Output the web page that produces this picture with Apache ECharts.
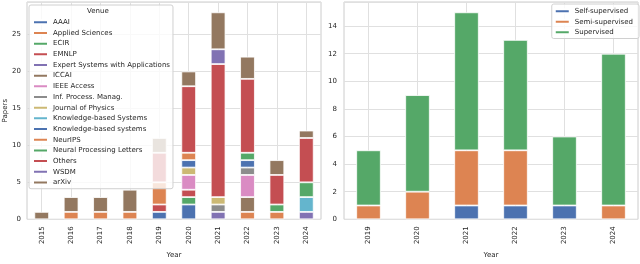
<!DOCTYPE html>
<html>
<head>
<meta charset="utf-8">
<script src="https://cdn.jsdelivr.net/npm/echarts@6/dist/echarts.min.js"></script>
<style>html,body{margin:0;padding:0;background:#fff}#c{width:640px;height:264px}</style>
</head>
<body>
<div id="c"></div>
<script>
// ---- Left chart: papers per venue per year ----
const years = ['2015','2016','2017','2018','2019','2020','2021','2022','2023','2024'];
const venues = ['AAAI','Applied Sciences','ECIR','EMNLP','Expert Systems with Applications','ICCAI','IEEE Access','Inf. Process. Manag.','Journal of Physics','Knowledge-based Systems','Knowledge-based systems','NeurIPS','Neural Processing Letters','Others','WSDM','arXiv'];
const AAAI              = [0,0,0,0,1,2,0,0,0,0];
const AppliedSciences   = [0,0,0,0,0,0,0,1,0,0];
const ECIR              = [0,0,0,0,0,1,0,0,0,0];
const EMNLP             = [0,0,0,0,1,1,0,0,0,0];
const ExpertSystems     = [0,0,0,0,0,0,1,0,0,1];
const ICCAI             = [0,0,0,0,0,0,0,2,0,0];
const IEEEAccess        = [0,0,0,0,0,2,0,3,0,0];
const InfProcessManag   = [0,0,0,0,0,0,1,1,0,0];
const JournalOfPhysics  = [0,0,0,0,0,1,1,0,0,0];
const KnowledgeBasedSys = [0,0,0,0,0,0,0,0,0,2];
const KnowledgeBasedsys = [0,0,0,0,0,1,0,1,0,0];
const NeurIPS           = [0,1,1,1,3,1,0,0,1,0];
const NeuralProcLetters = [0,0,0,0,0,0,0,1,1,2];
const Others            = [0,0,0,0,4,9,18,10,4,6];
const WSDM              = [0,0,0,0,0,0,2,0,0,0];
const arXiv             = [1,2,2,3,2,2,5,3,2,1];
const venueValues = [AAAI,AppliedSciences,ECIR,EMNLP,ExpertSystems,ICCAI,IEEEAccess,InfProcessManag,JournalOfPhysics,KnowledgeBasedSys,KnowledgeBasedsys,NeurIPS,NeuralProcLetters,Others,WSDM,arXiv];
const leftTicks = [0,5,10,15,20,25];

// ---- Right chart: supervision type per year ----
const years2 = ['2019','2020','2021','2022','2023','2024'];
const methods = ['Self-supervised','Semi-supervised','Supervised'];
const selfSup = [0,0,1,1,1,0];
const semiSup = [1,2,4,4,0,1];
const supervised = [4,7,10,8,5,11];
const rightTicks = [0,2,4,6,8,10,12,14];

const deep = ['#4C72B0','#DD8452','#55A868','#C44E52','#8172B3','#937860','#DA8BC3','#8C8C8C','#CCB974','#64B5CD'];
const txt = '#262626';
const font = 'DejaVu Sans';
const fs = 7;

const chart = echarts.init(document.getElementById('c'), null, {renderer:'canvas'});
const nz = a => a.map(v => v === 0 ? '-' : v);

const series = [];
venues.forEach((name, i) => {
  series.push({
    name, type:'bar', stack:'v', xAxisIndex:0, yAxisIndex:0,
    data: nz(venueValues[i]), barWidth:'50%',
    itemStyle:{color: deep[i % 10], borderColor:'#fff', borderWidth:0.8},
    emphasis:{disabled:true}
  });
});
[selfSup, semiSup, supervised].forEach((d, i) => {
  series.push({
    name: methods[i], type:'bar', stack:'m', xAxisIndex:1, yAxisIndex:1,
    data: nz(d), barWidth:'50%',
    itemStyle:{color: deep[i], borderColor:'#fff', borderWidth:0.8},
    emphasis:{disabled:true}
  });
});

const gridLine = {show:true, alignWithLabel:true, lineStyle:{color:'#e0e0e0', width:1}};
const axisText = {color:txt, fontFamily:font, fontSize:fs};

chart.setOption({
  animation:false,
  textStyle:{fontFamily:font},
  grid:[
    {left:27, right:319, top:2, bottom:34, show:true, borderColor:'#cccccc', borderWidth:1, backgroundColor:'transparent'},
    {left:344, right:2, top:2, bottom:34, show:true, borderColor:'#cccccc', borderWidth:1, backgroundColor:'transparent'}
  ],
  xAxis:[
    {type:'category', gridIndex:0, data:years, axisLine:{show:false}, axisTick:{show:false, alignWithLabel:true},
     axisLabel:Object.assign({rotate:90, margin:7}, axisText), splitLine:gridLine,
     name:'Year', nameLocation:'middle', nameGap:30, nameTextStyle:axisText},
    {type:'category', gridIndex:1, data:years2, axisLine:{show:false}, axisTick:{show:false, alignWithLabel:true},
     axisLabel:Object.assign({rotate:90, margin:7}, axisText), splitLine:gridLine,
     name:'Year', nameLocation:'middle', nameGap:30, nameTextStyle:axisText}
  ],
  yAxis:[
    {type:'value', gridIndex:0, min:0, max:29.4, interval:5, axisLine:{show:false}, axisTick:{show:false},
     axisLabel:Object.assign({margin:6, customValues:leftTicks}, axisText),
     splitLine:{show:true, lineStyle:{color:'#e0e0e0', width:1}},
     name:'Papers', nameLocation:'middle', nameGap:17, nameTextStyle:axisText},
    {type:'value', gridIndex:1, min:0, max:15.75, interval:2, axisLine:{show:false}, axisTick:{show:false},
     axisLabel:Object.assign({margin:7, customValues:rightTicks}, axisText),
     splitLine:{show:true, lineStyle:{color:'#e0e0e0', width:1}}}
  ],
  legend:[
    {data:venues, orient:'vertical', left:29, top:5, itemWidth:15, itemHeight:4, itemGap:0,
     icon:'rect', padding:[12,3,1,3], backgroundColor:'rgba(255,255,255,0.8)', borderColor:'#d0d0d0', borderWidth:1, borderRadius:2,
     textStyle:{color:txt, fontFamily:font, fontSize:fs, lineHeight:10.67}, selectedMode:false, z:10},
    {data:methods, orient:'vertical', right:1, top:4, itemWidth:15, itemHeight:4, itemGap:0,
     icon:'rect', padding:[2,6,1,2], backgroundColor:'rgba(255,255,255,0.8)', borderColor:'#d0d0d0', borderWidth:1, borderRadius:2,
     textStyle:{color:txt, fontFamily:font, fontSize:fs, lineHeight:10.5}, selectedMode:false, z:10}
  ],
  graphic:[
    {type:'text', left:87, top:8, z:100, style:{text:'Venue', fill:txt, font:fs+'px "DejaVu Sans"'}}
  ],
  series
});
</script>
</body>
</html>
